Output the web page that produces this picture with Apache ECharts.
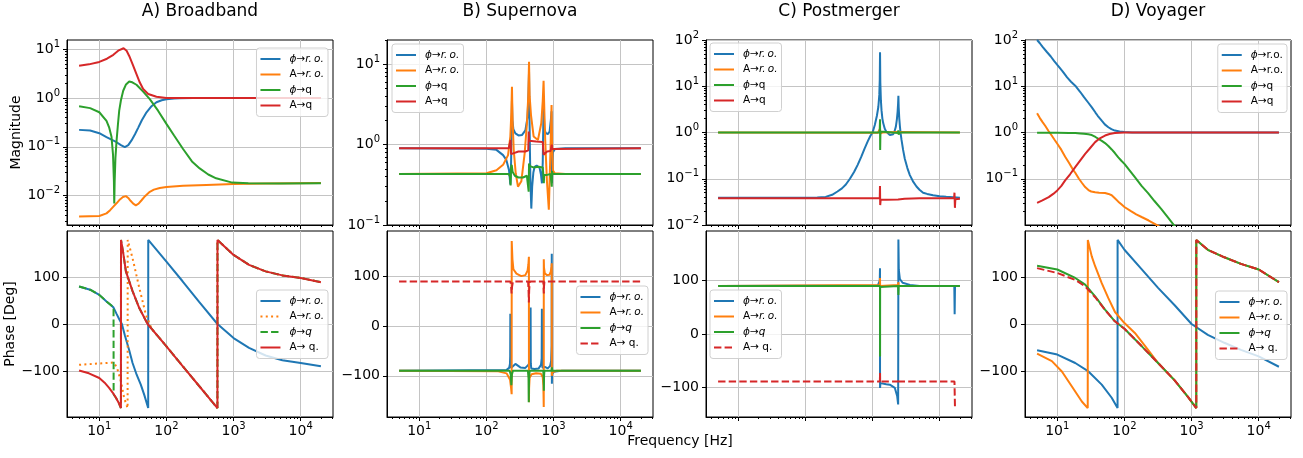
<!DOCTYPE html>
<html>
<head>
<meta charset="utf-8">
<script src="https://cdn.jsdelivr.net/npm/echarts@6/dist/echarts.min.js"></script>
<style>
  html, body { margin: 0; padding: 0; background: #fff; }
  #chart { width: 1303px; height: 458px; }
</style>
</head>
<body>
<div id="chart"></div>
<script>
// Transfer functions of four detector configurations: magnitude (top row) and phase (bottom row).
const FONT = 'DejaVu Sans';
const COLORS = ['#1f77b4', '#ff7f0e', '#2ca02c', '#d62728'];

const panelTitles = ['A) Broadband', 'B) Supernova', 'C) Postmerger', 'D) Voyager'];
const freqTicks = [10, 100, 1000, 10000];
const magTicks = [
  [0.01, 0.1, 1, 10],
  [0.1, 1, 10],
  [0.01, 0.1, 1, 10, 100],
  [0.1, 1, 10, 100]
];
const phaseTicks = [-100, 0, 100];

// ---- A) Broadband ----
const A_mag_phiRo = [[5,0.222],[7.3,0.215],[10,0.19],[12.8,0.158],[15.2,0.14],[18.1,0.124],[21,0.108],[24,0.098],[27,0.108],[30.2,0.135],[34,0.18],[37.9,0.244],[43,0.35],[50.5,0.51],[60,0.68],[71,0.82],[85,0.9],[100,0.94],[130,0.975],[158,0.985],[250,0.995],[1000,1.0],[20000,1.0]];
const A_mag_ARo = [[5,0.0037],[10,0.0038],[12.8,0.0043],[14.5,0.005],[16.2,0.0059],[18.2,0.007],[20.3,0.0083],[22.5,0.0093],[24.9,0.0097],[27,0.0089],[29.2,0.0078],[32,0.0068],[35,0.0063],[38.5,0.0068],[42.6,0.008],[48,0.0097],[56.5,0.0119],[65,0.0132],[79.6,0.0143],[100,0.015],[177,0.0158],[393,0.0165],[1000,0.0172],[3000,0.0176],[20000,0.018]];
const A_mag_phiQ = [[5,0.676],[7.3,0.62],[10,0.51],[12.8,0.34],[14,0.25],[15.2,0.16],[16,0.07],[16.5,0.02],[16.7,0.0069],[16.95,0.02],[17.4,0.06],[18.1,0.135],[19,0.3],[19.8,0.55],[21,0.9],[22.7,1.41],[25,1.9],[27.9,2.19],[31,2.1],[35.8,1.87],[45,1.35],[56.5,0.95],[75,0.55],[100,0.295],[130,0.17],[177,0.09],[240,0.05],[313,0.036],[420,0.027],[550,0.0225],[955,0.0184],[1660,0.0178],[5000,0.0176],[20000,0.0178]];
const A_mag_AQ = [[5,4.6],[7,4.9],[10,5.5],[13,6.4],[16.2,7.7],[19.5,9.5],[23,10.5],[25.5,9.3],[27.9,7.3],[31.4,4.9],[35.8,3.1],[40,2.1],[45,1.53],[53.5,1.21],[71,1.06],[100,1.0],[20000,1.0]];

const A_ph_phiRo = [[5,80],[7.3,73],[10,62],[12.8,48],[15,40],[16.3,35],[18,22],[20,9],[21.7,0],[24,-24],[27.9,-56],[31.3,-83],[36,-108],[41.5,-129],[47,-152],[53.5,-179],[53.6,179],[100,133],[174,91],[307,47],[575,0],[1000,-30],[1700,-51],[3000,-67],[5330,-77],[10000,-83],[20000,-90]];
const A_ph_ARo = [[5,-87],[10,-84],[16.3,-82],[17.5,-88],[18.5,-95],[21,-122],[23.5,-158],[26.4,-179],[26.5,179],[31.3,140],[39.4,77],[49.4,20],[60,-10],[100,-47.5],[173,-89],[307,-132],[575,-179],[576,179],[1000,147],[1700,126],[3000,112],[5330,103.5],[10000,98],[20000,89]];
const A_ph_phiQ = [[5,80],[7.3,73],[10,62],[12.8,48],[15,40],[16.3,35],[16.35,-150],[17.7,-157],[19.5,-168],[21,-179],[21.05,179],[22.5,155],[24.9,112],[31.3,70],[39.4,34],[52.4,0],[100,-47.5],[173,-89],[307,-132],[575,-179],[576,179],[1000,147],[1700,126],[3000,112],[5330,103.5],[10000,98],[20000,89]];
const A_ph_AQ = [[5,-99],[7,-105],[10,-115],[12,-125],[14,-136],[16,-147],[17.7,-157],[19.5,-168],[21,-179],[21.05,179],[22.5,155],[24.9,112],[31.3,70],[39.4,34],[52.4,0],[100,-47.5],[173,-89],[307,-132],[575,-179],[576,179],[1000,147],[1700,126],[3000,112],[5330,103.5],[10000,98],[20000,89]];

// ---- B) Supernova ----
const B_mag_phiRo = [[5,0.9],[100,0.89],[141,0.86],[177,0.74],[198,0.645],[217,0.48],[227,0.32],[233,0.6],[237,1.6],[240,3.5],[244,2.0],[252,1.55],[270,1.38],[300,1.3],[340,1.32],[380,1.5],[410,2.2],[424,4.5],[431,8],[437,2.5],[445,0.8],[452,0.35],[466,0.16],[480,0.3],[500,0.45],[522,0.53],[560,0.55],[620,0.51],[650,0.42],[671,0.33],[690,0.6],[703,1.8],[710,4],[716,2.4],[730,1.6],[760,1.4],[820,1.35],[873,1.45],[910,2.0],[933,2.6],[939,1.0],[946,0.33],[955,0.5],[975,0.8],[1050,0.88],[1500,0.9],[20000,0.9]];
const B_mag_ARo = [[5,0.43],[100,0.44],[141,0.48],[177,0.56],[210,0.74],[227,1.26],[235,2.5],[240,5.25],[245,2.0],[255,0.86],[273,0.44],[295,0.3],[331,0.35],[371,0.78],[401,1.84],[420,4.0],[431,10.7],[440,4.0],[461,2.33],[505,1.26],[585,1.14],[656,1.84],[690,3.5],[710,6.2],[730,2.5],[751,1.14],[795,0.36],[850,0.155],[900,0.86],[933,3.1],[950,1.0],[977,0.48],[1040,0.44],[1500,0.43],[20000,0.43]];
const B_mag_phiQ = [[5,0.43],[215,0.43],[225,0.4],[229,0.31],[233,0.52],[238,0.56],[245,0.46],[265,0.41],[300,0.39],[350,0.39],[400,0.41],[420,0.4],[426,0.26],[431,0.58],[445,0.54],[500,0.52],[600,0.53],[690,0.52],[705,0.5],[711,0.38],[716,0.33],[725,0.42],[800,0.42],[900,0.43],[930,0.42],[940,0.3],[950,0.47],[970,0.43],[20000,0.43]];
const B_mag_AQ = [[5,0.9],[215,0.9],[225,0.92],[229,1.14],[233,0.76],[245,0.8],[300,0.82],[380,0.82],[420,0.85],[426,1.45],[431,1.12],[450,1.1],[550,1.09],[690,1.08],[705,1.05],[711,0.75],[720,0.79],[800,0.82],[900,0.83],[935,0.85],[941,1.0],[950,0.88],[980,0.9],[20000,0.9]];

const B_ph_phiRo = [[5,-90],[200,-88],[218,-84],[224,-76],[226,-60],[227,25],[228,-70],[232,-84],[245,-80],[270,-76],[320,-83],[380,-84],[420,-78],[445,-72],[452,-60],[455,38],[458,-75],[465,-85],[520,-86],[600,-85],[650,-78],[665,-65],[670,35],[674,-70],[685,-84],[740,-82],[820,-85],[890,-80],[920,-70],[935,-40],[940,146],[944,-116],[950,-97],[1000,-92],[1300,-90],[20000,-90]];
const B_ph_ARo = [[5,-90],[150,-91],[200,-95],[225,-108],[233,-125],[237.5,-137],[238,172],[240,175],[244,135],[252,115],[280,106],[330,101],[380,103],[410,112],[422,125],[429,140],[430,-153],[432,-125],[440,-104],[470,-97],[550,-95],[650,-96],[690,-103],[705,-120],[714,-163],[715,135],[720,118],[740,107],[800,103],[870,104],[910,110],[930,120],[940,127],[942,-100],[960,-93],[1100,-90],[20000,-90]];
const B_ph_phiQ = [[5,-90],[222,-90],[230,-97],[235,-119],[240,-97],[248,-90],[415,-90],[424,-105],[427,-153],[431,-105],[440,-90],[705,-90],[713,-105],[717,-130],[722,-100],[730,-90],[935,-90],[945,-83],[955,-90],[20000,-90]];
const B_ph_AQ = [[5,90],[228,90],[234,78],[237,66],[241,80],[248,90],[418,90],[425,70],[429,48],[433,72],[442,90],[705,90],[712,74],[716,66],[721,80],[730,90],[20000,90]];

// ---- C) Postmerger ----
const C_mag_phiRo = [[5,0.039],[100,0.039],[150,0.0393],[200,0.0405],[250,0.045],[300,0.053],[350,0.062],[400,0.075],[460,0.1],[530,0.14],[600,0.2],[680,0.3],[760,0.45],[850,0.65],[930,0.85],[1000,1.0],[1080,1.45],[1160,2.3],[1220,3.6],[1260,6.5],[1280,14],[1292,54],[1305,12],[1330,5],[1360,3],[1400,2.0],[1440,1.6],[1520,1.2],[1615,1.02],[1700,0.93],[1810,0.88],[1920,0.88],[2030,0.92],[2120,1.05],[2220,1.33],[2300,1.9],[2360,2.8],[2400,4.2],[2425,6.2],[2450,3.5],[2500,2.0],[2550,1.4],[2620,0.95],[2700,0.69],[2850,0.42],[3020,0.27],[3300,0.17],[3590,0.12],[4000,0.088],[4510,0.068],[5000,0.058],[5660,0.05],[6500,0.047],[7960,0.044],[10000,0.042],[12500,0.041],[20000,0.039]];
const C_mag_ARo = [[5,1.0],[1200,0.99],[1280,0.96],[1292,1.2],[1305,0.95],[1400,1.0],[2350,1.03],[2420,1.08],[2480,1.0],[20000,1.0]];
const C_mag_phiQ = [[5,1.0],[1275,1.0],[1287,0.95],[1292,1.94],[1298,0.42],[1310,1.05],[1400,1.02],[2000,1.0],[2400,0.98],[2420,1.12],[2450,0.9],[2500,1.0],[20000,1.0]];
const C_mag_AQ = [[5,0.038],[1280,0.038],[1290,0.07],[1300,0.027],[1320,0.035],[1600,0.035],[2400,0.0355],[2420,0.039],[2450,0.0355],[3000,0.037],[5000,0.038],[16400,0.038],[16600,0.05],[16850,0.0235],[17100,0.036],[20000,0.037]];

const C_ph_phiRo = [[5,90],[1200,91],[1280,100],[1290,123],[1292,-101],[1310,-92],[1360,-92],[1600,-94],[1807,-95],[2148,-101],[2323,-116],[2405,-132],[2425,177],[2460,120],[2550,103],[2800,96],[3600,92],[5000,90],[16500,90],[16700,37],[16900,90],[20000,90]];
const C_ph_ARo = [[5,90],[1280,92],[1290,105],[1295,90],[2400,92],[2425,97],[2450,90],[20000,90]];
const C_ph_phiQ = [[5,90],[1291,90],[1293,-42],[1296,88],[1300,90],[2400,90],[2425,73],[2450,90],[20000,90]];
const C_ph_AQ = [[5,-89],[1285,-89],[1292,-73],[1296,-89],[2415,-89],[2428,-84],[2440,-89],[16600,-89],[16900,-140]];

// ---- D) Voyager ----
const D_mag_phiRo = [[5,100],[5.5,85],[6,72],[7,55],[8,44],[9,35],[10,29],[12,21],[14,15.5],[16,12.5],[18.5,10.3],[22,7.5],[25,5.8],[29,4.4],[32.7,3.5],[37,2.7],[40,2.3],[45.9,1.8],[51,1.5],[57.6,1.3],[64,1.18],[72,1.1],[85,1.05],[100,1.02],[130,1.005],[150,1.0],[20000,1.0]];
const D_mag_ARo = [[5,2.6],[5.5,2.05],[6,1.7],[6.6,1.4],[7.4,1.08],[8.3,0.85],[9.2,0.68],[10,0.57],[11.5,0.42],[13.1,0.3],[15,0.22],[17,0.16],[18.5,0.135],[21,0.1],[23.2,0.082],[26,0.066],[29.1,0.057],[32,0.053],[36.6,0.051],[42,0.05],[51.4,0.049],[58,0.047],[64.6,0.044],[72,0.038],[81,0.032],[90,0.028],[100,0.0245],[125,0.02],[150,0.017],[180,0.0149],[230,0.0125],[310,0.0098],[450,0.0072]];
const D_mag_phiQ = [[5,0.99],[10,0.99],[15,0.98],[18.5,0.97],[22,0.955],[25,0.94],[29,0.915],[32.7,0.88],[37,0.8],[41,0.73],[46,0.66],[51.4,0.59],[57.6,0.51],[64.6,0.43],[72,0.36],[81,0.29],[90,0.245],[100,0.21],[120,0.15],[143,0.108],[180,0.07],[225,0.049],[280,0.033],[355,0.022],[450,0.0143],[553,0.0097],[800,0.005]];
const D_mag_AQ = [[5,0.03],[6,0.034],[7.45,0.04],[8.7,0.047],[10,0.056],[11.5,0.07],[13.1,0.092],[15.5,0.125],[18.5,0.178],[22,0.25],[26,0.346],[30,0.44],[36.6,0.62],[43,0.75],[51.4,0.86],[60,0.93],[72,0.97],[85,0.99],[100,1.0],[20000,1.0]];

const D_ph_phiRo = [[5,-56],[10,-65],[18.5,-83],[29.1,-101],[45.9,-129],[64.6,-157],[79,-179],[79.1,179],[100,158],[180,117],[317,77],[560,40],[1000,0],[1746,-23],[3080,-40],[5440,-55],[10000,-69],[20000,-91]];
const D_ph_ARo = [[5,-63],[8.3,-79],[11.7,-101],[16.5,-133],[23.2,-165],[28.4,-179],[28.5,179],[32.6,144],[36.6,123],[45.9,87],[57.6,55],[72.3,25.5],[100,2],[143,-19],[225,-55],[317,-83],[560,-120],[883,-155],[1175,-179],[1176,179],[1746,158],[3080,142],[5440,128],[10000,116],[20000,89]];
const D_ph_phiQ = [[5,124],[10,116],[18.5,98],[26,84],[36.6,59],[51.4,30.5],[72,5.7],[100,-10],[180,-47],[317,-83],[560,-120],[883,-155],[1175,-179],[1176,179],[1746,158],[3080,142],[5440,128],[10000,116],[20000,89]];
const D_ph_AQ = [[5,119],[10,108.5],[18.5,94],[26,80],[36.6,57],[51.4,30],[72,5.7],[100,-10],[180,-47],[317,-83],[560,-120],[883,-155],[1175,-179],[1176,179],[1746,158],[3080,142],[5440,128],[10000,116],[20000,89]];

const magData = [
  [A_mag_phiRo, A_mag_ARo, A_mag_phiQ, A_mag_AQ],
  [B_mag_phiRo, B_mag_ARo, B_mag_phiQ, B_mag_AQ],
  [C_mag_phiRo, C_mag_ARo, C_mag_phiQ, C_mag_AQ],
  [D_mag_phiRo, D_mag_ARo, D_mag_phiQ, D_mag_AQ]
];
const phaseData = [
  [A_ph_phiRo, A_ph_ARo, A_ph_phiQ, A_ph_AQ],
  [B_ph_phiRo, B_ph_ARo, B_ph_phiQ, B_ph_AQ],
  [C_ph_phiRo, C_ph_ARo, C_ph_phiQ, C_ph_AQ],
  [D_ph_phiRo, D_ph_ARo, D_ph_phiQ, D_ph_AQ]
];

// Legend texts (rich text: p = italic phi, i = italic symbols)
const magLegendItalic = ['{p|ϕ}→{i|r.\u2009o.}', 'A→{i|r.\u2009o.}', '{p|ϕ}→q', 'A→q'];
const magLegendPlain = ['{p|ϕ}→r.o.', 'A→r.o.', '{p|ϕ}→q', 'A→q'];
const phaseLegend = ['{p|ϕ}→{i|r.\u2009o.}', 'A→{i|r.\u2009o.}', '{p|ϕ}→{i|q}', 'A→ q.'];

// ---- layout ----
const COL_LEFT = [67, 387, 706, 1025];
const COL_WIDTH = 266;
const ROW_TOP = [40, 231];
const ROW_HEIGHT = [185, 186];
const X_RANGE = [0.5189, 4.4811];              // log10(Hz)
const MAG_RANGE = [[-2.605, 1.19], [-1, 1.30103], [-2, 2], [-2, 2]];  // log10(magnitude)
const PHASE_RANGE = [[-198, 198], [-183, 192], [-155.5, 193], [-198, 198]];
const PHASE_DASH = [
  ['solid', [2, 3.3], [7.4, 3.2], 'solid'],
  ['solid', 'solid', 'solid', [7.4, 3.2]],
  ['solid', 'solid', 'solid', [7.4, 3.2]],
  ['solid', 'solid', 'solid', [7.4, 3.2]]
];
const MAG_LEGEND_POS = [{ right: 975, top: 48 }, { left: 392, top: 44 }, { left: 710, top: 43 }, { right: 16, top: 44 }];
const PHASE_LEGEND_POS = [{ right: 975, top: 290 }, { right: 655, top: 286 }, { left: 710, top: 290 }, { right: 16, top: 291 }];

const lg = Math.log10;
const GRID_COLOR = '#c4c4c4';
const LEGEND_FONT = 10.5;

function minorTicks(lo, hi) {
  const out = [];
  for (let e = Math.floor(lo); e <= Math.ceil(hi); e++) {
    for (let k = 2; k <= 9; k++) {
      const v = e + lg(k);
      if (v >= lo && v <= hi) out.push(v);
    }
  }
  return out;
}
function powLabel(v) {
  const e = Math.round(v);
  return '{b|10}{s|' + (e < 0 ? '\u2212' + (-e) : String(e)) + '}';
}
function phaseLabel(v) {
  return v < 0 ? '\u2212' + (-v) : String(v);
}
const powRich = {
  b: { fontSize: 14, lineHeight: 20, fontFamily: FONT, color: '#000' },
  s: { fontSize: 10, lineHeight: 10, verticalAlign: 'top', fontFamily: FONT, color: '#000' }
};

const grids = [], xAxes = [], yAxes = [], series = [], legends = [], titles = [];

for (let col = 0; col < 4; col++) {
  titles.push({
    text: panelTitles[col], left: COL_LEFT[col] + COL_WIDTH / 2, top: 3, textAlign: 'center', padding: 0,
    textStyle: { fontSize: 17, fontWeight: 'normal', color: '#000', fontFamily: FONT }
  });
}
titles.push({
  text: 'Frequency [Hz]', left: 680, top: 434, textAlign: 'center', padding: 0,
  textStyle: { fontSize: 14, fontWeight: 'normal', color: '#000', fontFamily: FONT }
});

for (let row = 0; row < 2; row++) {
  for (let col = 0; col < 4; col++) {
    const gi = grids.length;
    grids.push({
      left: COL_LEFT[col], top: ROW_TOP[row], width: COL_WIDTH, height: ROW_HEIGHT[row],
      show: true, borderColor: '#000', borderWidth: 1, backgroundColor: 'transparent',
      containLabel: false, outerBoundsMode: 'none'
    });

    // frequency axis: major ticks + grid lines, then a second axis carrying the minor ticks
    const xi = xAxes.length;
    const showXLabels = row === 1 && col !== 2;
    xAxes.push({
      type: 'value', gridIndex: gi, position: 'bottom', min: X_RANGE[0], max: X_RANGE[1],
      axisLine: { show: true, onZero: false, lineStyle: { color: '#000', width: 1 } },
      axisTick: { show: true, inside: false, length: 4, customValues: freqTicks.map(lg), lineStyle: { color: '#000', width: 1 } },
      axisLabel: { show: showXLabels, customValues: freqTicks.map(lg), formatter: powLabel, margin: 4, rich: powRich },
      splitLine: { show: true, lineStyle: { color: GRID_COLOR, width: 1 } }
    });
    xAxes.push({
      type: 'value', gridIndex: gi, position: 'bottom', min: X_RANGE[0], max: X_RANGE[1],
      axisLine: { show: false, onZero: false },
      axisTick: { show: true, inside: false, length: 2, customValues: minorTicks(X_RANGE[0], X_RANGE[1]), lineStyle: { color: '#000', width: 1 } },
      axisLabel: { show: false },
      splitLine: { show: false }
    });

    const yi = yAxes.length;
    if (row === 0) {
      const r = MAG_RANGE[col];
      const ticks = magTicks[col].map(lg);
      yAxes.push({
        type: 'value', gridIndex: gi, position: 'left', min: r[0], max: r[1],
        name: col === 0 ? 'Magnitude' : '', nameLocation: 'middle', nameGap: 44, nameRotate: 90,
        nameTextStyle: { fontSize: 14, color: '#000', fontFamily: FONT },
        axisLine: { show: true, onZero: false, lineStyle: { color: '#000', width: 1 } },
        axisTick: { show: true, inside: false, length: 4, customValues: ticks, lineStyle: { color: '#000', width: 1 } },
        axisLabel: { show: true, customValues: ticks, formatter: powLabel, margin: 7, rich: powRich },
        splitLine: { show: true, lineStyle: { color: GRID_COLOR, width: 1 } }
      });
      yAxes.push({
        type: 'value', gridIndex: gi, position: 'left', min: r[0], max: r[1],
        axisLine: { show: false, onZero: false },
        axisTick: { show: true, inside: false, length: 2, customValues: minorTicks(r[0], r[1]), lineStyle: { color: '#000', width: 1 } },
        axisLabel: { show: false },
        splitLine: { show: false }
      });
    } else {
      const r = PHASE_RANGE[col];
      yAxes.push({
        type: 'value', gridIndex: gi, position: 'left', min: r[0], max: r[1],
        name: col === 0 ? 'Phase [Deg]' : '', nameLocation: 'middle', nameGap: 44, nameRotate: 90,
        nameTextStyle: { fontSize: 14, color: '#000', fontFamily: FONT },
        axisLine: { show: true, onZero: false, lineStyle: { color: '#000', width: 1 } },
        axisTick: { show: true, inside: false, length: 4, customValues: phaseTicks, lineStyle: { color: '#000', width: 1 } },
        axisLabel: { show: true, customValues: phaseTicks, formatter: phaseLabel, margin: 7, fontSize: 14, color: '#000', fontFamily: FONT },
        splitLine: { show: true, lineStyle: { color: GRID_COLOR, width: 1 } }
      });
    }

    const names = [];
    const labelMap = {};
    for (let k = 0; k < 4; k++) {
      const name = panelTitles[col].charAt(0) + (row === 0 ? '-mag-' : '-phase-') + k;
      names.push(name);
      labelMap[name] = row === 0 ? (col === 3 ? magLegendPlain[k] : magLegendItalic[k]) : phaseLegend[k];
      const src = row === 0 ? magData[col][k] : phaseData[col][k];
      const data = src.map(p => [lg(p[0]), row === 0 ? lg(p[1]) : p[1]]);
      series.push({
        type: 'line', name, xAxisIndex: xi, yAxisIndex: yi, data,
        symbol: 'none', showSymbol: false, clip: true, smooth: false,
        color: COLORS[k],
        lineStyle: { color: COLORS[k], width: 2, type: row === 0 ? 'solid' : PHASE_DASH[col][k], cap: 'butt' },
        emphasis: { disabled: true }, silent: true
      });
    }

    const pos = row === 0 ? MAG_LEGEND_POS[col] : PHASE_LEGEND_POS[col];
    legends.push(Object.assign({
      orient: 'vertical', data: names, selectedMode: false,
      formatter: name => labelMap[name],
      backgroundColor: 'rgba(255,255,255,0.8)', borderColor: '#d0d0d0', borderWidth: 1, borderRadius: 3,
      padding: [5, 4, 5, 3], itemWidth: 20, itemHeight: 12, itemGap: 3.5,
      itemStyle: { opacity: 0 }, lineStyle: { width: 2 },
      textStyle: {
        fontSize: LEGEND_FONT, lineHeight: 12, color: '#000', fontFamily: FONT, padding: [0, 0, 0, 4],
        rich: {
          p: { fontSize: LEGEND_FONT, lineHeight: 12, fontStyle: 'italic', color: '#000', fontFamily: FONT },
          i: { fontSize: LEGEND_FONT, lineHeight: 12, fontStyle: 'italic', color: '#000', fontFamily: FONT }
        }
      }
    }, pos));
  }
}

const chart = echarts.init(document.getElementById('chart'), null, { renderer: 'canvas' });
chart.setOption({
  animation: false,
  backgroundColor: '#fff',
  textStyle: { fontFamily: FONT },
  title: titles,
  grid: grids,
  xAxis: xAxes,
  yAxis: yAxes,
  legend: legends,
  tooltip: { show: false },
  series
});
</script>
</body>
</html>
